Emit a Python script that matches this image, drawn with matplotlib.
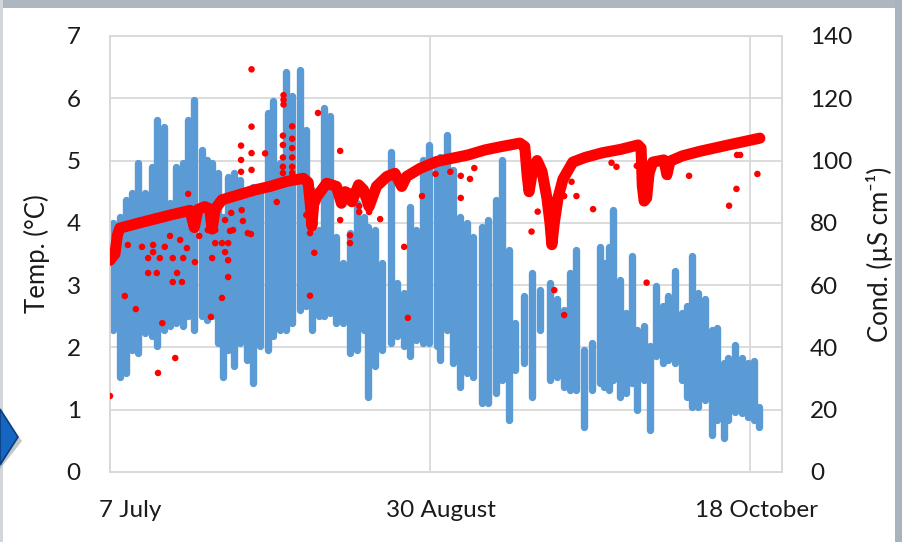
import matplotlib
matplotlib.use("Agg")
import matplotlib.pyplot as plt
from matplotlib.patches import Rectangle, Polygon
from matplotlib.ticker import FixedLocator, NullFormatter, FixedFormatter

# ---- data -------------------------------------------------------------
# Water temperature: daily envelope (day since 7 July, min, max) in degC
temp_day = [0.1, 0.55, 1.6, 2.55, 3.5, 4.6, 5.7, 6.8, 7.6, 8.8, 9.75, 10.8, 11.8,
            12.7, 13.7, 14.9, 15.7, 16.5, 17.6, 18.3, 19.2, 20.2, 21.1, 22.2, 23.3,
            24.4, 25.7, 26.5, 27.6, 28.6, 29.5, 30.8, 31.9, 32.9, 33.9, 34.7, 35.8,
            36.8, 37.9, 39.0, 40.2, 41.3, 42.0, 43.1, 44.2, 45.6, 46.6, 47.7, 48.8,
            49.8, 50.9, 51.9, 53.1, 53.6, 54.7, 55.8, 56.9, 58.0, 59.0, 60.4, 61.5,
            62.8, 63.7, 64.8, 65.8, 67.2, 68.5, 69.9, 71.5, 72.6, 73.7, 74.8, 75.8,
            77.1, 78.3, 79.6, 80.2, 81.1, 81.8, 82.8, 83.9, 84.8, 85.7, 86.7, 87.8,
            88.8, 89.9, 90.7, 91.8, 92.9, 93.7, 94.5, 95.6, 96.7, 97.8, 98.6, 99.7,
            100.5, 101.5, 102.7, 103.7, 104.7, 105.5]
temp_min = [2.34, 2.28, 1.53, 1.59, 1.96, 1.91, 2.23, 2.18, 2.02, 2.28, 2.34, 2.39, 2.34,
            2.50, 2.28, 2.50, 2.44, 2.50, 2.07, 1.53, 1.96, 1.70, 2.07, 1.80, 1.43,
            2.02, 1.96, 2.18, 2.28, 2.28, 2.39, 2.60, 2.66, 2.28, 2.50, 2.50, 2.55,
            2.39, 2.39, 1.91, 1.96, 2.28, 1.21, 1.70, 1.96, 2.07, 2.18, 2.02, 1.86,
            2.12, 2.07, 2.07, 2.02, 1.80, 2.28, 1.75, 1.37, 1.59, 1.53, 1.11, 1.11,
            1.27, 1.48, 0.84, 1.64, 1.75, 1.21, 2.28, 1.48, 1.53, 1.37, 1.32, 1.32,
            0.73, 1.32, 1.43, 1.37, 1.32, 1.48, 1.21, 1.27, 1.43, 1.00, 1.48, 0.68,
            1.86, 1.75, 1.80, 1.75, 1.48, 1.21, 1.05, 1.05, 1.16, 0.60, 0.84, 0.55,
            0.84, 0.97, 0.95, 0.89, 0.84, 0.73]
temp_max = [3.62, 4.00, 4.10, 4.37, 4.48, 4.96, 4.48, 4.90, 5.65, 5.54, 4.32, 4.90, 4.96,
            5.65, 5.97, 5.17, 5.01, 4.96, 4.80, 4.10, 4.74, 4.80, 4.69, 4.37, 4.58,
            4.53, 5.76, 5.95, 4.96, 6.43, 6.03, 6.45, 5.49, 4.53, 3.89, 5.84, 5.71,
            3.78, 3.35, 3.83, 4.32, 4.10, 3.94, 3.89, 3.35, 5.14, 3.03, 2.87, 4.26,
            3.89, 5.01, 5.25, 5.01, 5.06, 5.41, 4.85, 4.10, 4.00, 3.78, 3.94, 4.05,
            4.37, 5.01, 3.57, 2.39, 2.82, 3.19, 2.93, 3.03, 2.77, 2.60, 3.19, 3.57,
            1.96, 2.07, 3.62, 3.35, 3.62, 4.21, 3.09, 2.55, 3.46, 2.28, 2.34, 2.02,
            2.98, 2.66, 2.82, 3.22, 2.55, 2.66, 3.46, 2.87, 2.77, 2.28, 2.31, 1.75,
            1.83, 2.04, 1.83, 1.75, 1.78, 1.05]

# Electrical conductivity: main trace (day, uS/cm)
cond_day = [0.0, 0.8, 1.2, 1.6, 4.6, 10.0, 13.0, 13.7, 14.3, 15.4, 16.2, 16.6, 17.1,
            18.2, 20.9, 23.6, 26.0, 28.7, 31.4, 32.2, 32.6, 32.8, 33.1, 33.6, 35.2,
            36.8, 37.6, 38.2, 38.7, 39.3, 40.4, 41.2, 42.1, 43.3, 45.0, 46.3, 47.4,
            48.2, 50.4, 53.1, 55.5, 58.2, 60.9, 63.6, 66.6, 67.4, 67.8, 68.1, 68.6,
            69.4, 70.2, 71.0, 71.5, 71.8, 72.2, 72.8, 73.6, 75.2, 77.2, 80.0, 83.0,
            85.8, 86.3, 86.5, 86.8, 87.2, 87.6, 88.2, 90.0, 90.5, 91.0, 93.0, 95.9,
            100.0, 105.6]
cond_val = [68.0, 70.0, 76.0, 78.3, 79.9, 82.6, 84.0, 78.5, 84.3, 85.2, 84.5, 78.0, 84.5,
            87.4, 89.0, 90.6, 91.7, 93.3, 94.3, 93.0, 85.0, 79.0, 86.0, 88.4, 92.7,
            91.7, 86.3, 90.0, 89.5, 86.8, 92.2, 90.6, 85.2, 91.7, 94.9, 95.9, 91.7,
            94.9, 97.5, 99.7, 100.7, 101.8, 103.4, 104.5, 105.6, 104.5, 95.0, 90.0, 96.0,
            100.0, 96.5, 88.0, 80.0, 73.0, 80.0, 88.0, 94.0, 99.5, 101.0, 102.5, 103.6,
            105.0, 104.0, 92.0, 87.0, 88.0, 96.0, 99.5, 100.2, 95.5, 99.8, 101.5, 103.0,
            104.8, 107.2]

# Conductivity readings away from the main trace: (day, uS/cm)
cond_outliers = [
    (0.0, 24.4), (23.0, 129.3), (23.0, 110.9), (21.3, 104.8), (21.3, 100.2),
    (21.3, 96.4), (23.0, 102.4), (25.2, 102.3), (23.0, 97.0), (12.7, 89.3),
    (21.4, 84.1), (22.4, 76.7), (19.7, 83.2), (20.0, 77.7), (18.7, 80.9),
    (11.4, 74.5), (9.75, 75.8), (8.9, 72.3), (7.0, 72.9), (7.0, 70.6),
    (6.2, 68.7), (8.1, 68.7), (10.2, 68.7), (11.9, 68.7), (5.2, 72.3),
    (2.9, 72.9), (12.5, 71.9), (6.2, 63.9), (7.6, 63.9), (10.2, 61.0),
    (11.7, 61.0), (10.9, 63.9), (13.8, 67.4), (16.6, 68.7), (17.1, 73.5),
    (18.2, 73.5), (19.2, 73.5), (18.7, 70.6), (19.2, 68.0), (19.2, 62.6),
    (18.2, 55.9), (16.4, 49.8), (14.5, 75.8), (2.4, 56.5), (4.2, 52.3),
    (8.5, 47.8), (10.6, 36.6), (7.8, 31.8), (15.9, 77.7), (17.1, 77.7),
    (19.5, 77.4), (21.6, 80.6), (22.9, 76.4),
    (28.2, 121.0), (28.2, 119.5), (28.2, 118.0), (28.1, 108.0), (28.1, 105.0),
    (28.1, 101.0), (28.1, 98.0), (28.1, 96.0), (29.6, 111.0), (29.6, 107.0),
    (29.6, 104.0), (29.6, 101.0), (29.6, 98.0), (29.6, 96.0), (33.8, 115.3),
    (37.4, 103.1), (27.1, 86.7), (31.9, 82.5), (32.5, 80.0), (32.5, 76.7),
    (33.2, 70.4), (32.5, 56.6), (37.4, 80.9), (39.0, 76.0), (39.0, 73.5),
    (40.5, 85.4), (40.5, 83.5), (42.1, 83.5), (43.9, 81.2), (47.8, 72.3),
    (48.4, 49.5), (50.7, 88.6), (52.9, 95.7),
    (55.3, 96.4), (57.0, 95.1), (58.5, 94.1), (57.0, 88.0), (59.2, 97.6),
    (68.5, 77.2), (69.5, 83.6), (72.2, 58.4), (73.8, 50.4), (75.0, 93.2),
    (75.8, 88.6), (73.8, 88.6), (78.5, 84.4),
    (81.5, 99.3), (82.3, 98.0), (85.6, 98.3), (87.2, 60.8), (90.7, 94.8),
    (94.1, 95.1), (101.9, 101.8), (102.4, 101.8), (101.8, 90.9), (100.6, 85.5),
    (105.2, 95.7),
]

# Axis labelling
date_ticks = [0, 52, 104]
date_label_pos = [3.3, 53.8, 105.1]
date_labels = ["7 July", "30 August", "18 October"]

# ---- styling -----------------------------------------------------------
BLUE = "#5B9BD5"
RED = "#FF0000"
GRID = "#D9D9D9"
TXT = "#1A1A1A"
FONT = ["Lato", "DejaVu Sans"]
FS = 17.5
plt.rcParams["font.family"] = FONT

W, H = 903, 542
fig = plt.figure(figsize=(W / 100, H / 100), dpi=100)
fig.patch.set_facecolor("white")

# window frame around the chart panel
fig.add_artist(Rectangle((0, 1 - 8 / H), 1, 8 / H, transform=fig.transFigure,
                         facecolor="#AEB6BF", edgecolor="none", zorder=0))
fig.add_artist(Rectangle((1 - 8 / W, 0), 8 / W, 1, transform=fig.transFigure,
                         facecolor="#A8B3BE", edgecolor="none", zorder=0))
fig.add_artist(Rectangle((0, 0), 3 / W, 1, transform=fig.transFigure,
                         facecolor="#D3D6DA", edgecolor="none", zorder=0))
# navigation arrow on the left border
shadow = Polygon([(0 / W, 1 - 414 / H), (22 / W, 1 - 441 / H), (0 / W, 1 - 469 / H)],
                 closed=True, transform=fig.transFigure, facecolor="#9AA0A8",
                 edgecolor="none", alpha=0.6, zorder=1)
arrow = Polygon([(0 / W, 1 - 409 / H), (18 / W, 1 - 437 / H), (0 / W, 1 - 465 / H)],
                closed=True, transform=fig.transFigure, facecolor="#1466C0",
                edgecolor="#0B3E7E", linewidth=1.2, zorder=2)
fig.add_artist(shadow)
fig.add_artist(arrow)

ax = fig.add_axes([110 / W, 1 - 472 / H, 672 / W, 436 / H])
ax2 = ax.twinx()

# temperature cloud (one column per day)
ax.vlines(temp_day, temp_min, temp_max, colors=BLUE, linewidth=5.3, capstyle="round",
          zorder=3)

# conductivity
ax2.plot(cond_day, cond_val, color=RED, linewidth=8.0, solid_capstyle="round",
         solid_joinstyle="round", zorder=4)
out_day = [p[0] for p in cond_outliers]
out_val = [p[1] for p in cond_outliers]
ax2.scatter(out_day, out_val, s=22, color=RED, edgecolors="none", zorder=5)

ax.set_xlim(0, 109.2)
ax.set_ylim(0, 7)
ax2.set_ylim(0, 140)
ax.set_yticks(range(0, 8))
ax2.set_yticks(range(0, 141, 20))

ax.xaxis.set_major_locator(FixedLocator(date_ticks))
ax.xaxis.set_major_formatter(NullFormatter())
ax.xaxis.set_minor_locator(FixedLocator(date_label_pos))
ax.xaxis.set_minor_formatter(FixedFormatter(date_labels))

ax.grid(True, which="major", color=GRID, linewidth=1.3, zorder=0)
ax.set_axisbelow(True)
for a in (ax, ax2):
    for s in a.spines.values():
        s.set_color(GRID)
        s.set_linewidth(1.3)
ax.tick_params(axis="both", which="both", length=0)
ax2.tick_params(axis="both", which="both", length=0)
ax.tick_params(axis="y", labelsize=FS, labelcolor=TXT, pad=21)
ax2.tick_params(axis="y", labelsize=FS, labelcolor=TXT, pad=20)
ax.tick_params(axis="x", which="minor", labelsize=FS, labelcolor=TXT, pad=20)

ax.set_ylabel("Temp. (°C)", fontsize=18.5, color=TXT, labelpad=12)
ax2.set_ylabel("Cond. (µS cm⁻¹)", fontsize=18.5, color=TXT, labelpad=10)

fig.savefig("out.png", dpi=100, facecolor=fig.get_facecolor())
